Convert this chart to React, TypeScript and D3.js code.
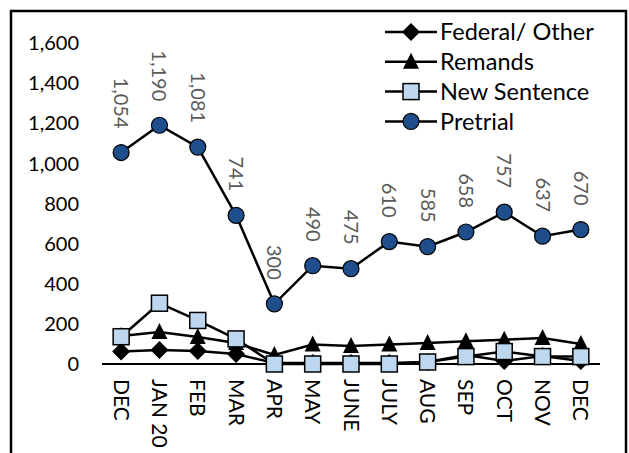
import React, { useEffect, useRef } from "react";
import * as d3 from "d3";

const months = ["DEC", "JAN 20", "FEB", "MAR", "APR", "MAY", "JUNE", "JULY", "AUG", "SEP", "OCT", "NOV", "DEC"];
const federal = [62, 70, 65, 50, 5, 5, 5, 5, 10, 45, 15, 40, 15];
const remands = [140, 160, 135, 105, 45, 97, 90, 97, 105, 113, 121, 130, 100];
const newSentence = [136, 303, 217, 125, 0, 0, 0, 0, 10, 37, 62, 37, 37];
const pretrial = [1054, 1190, 1081, 741, 300, 490, 475, 610, 585, 658, 757, 637, 670];
const yTicks = [0, 200, 400, 600, 800, 1000, 1200, 1400, 1600];

type Marker = "diamond" | "triangle" | "square" | "circle";

interface Series {
  name: string;
  values: number[];
  marker: Marker;
  fill: string;
}

// drawn bottom to top, same order as legend
const series: Series[] = [
  { name: "Federal/ Other", values: federal, marker: "diamond", fill: "#000000" },
  { name: "Remands", values: remands, marker: "triangle", fill: "#000000" },
  { name: "New Sentence", values: newSentence, marker: "square", fill: "#bdd7ee" },
  { name: "Pretrial", values: pretrial, marker: "circle", fill: "#1f4e8c" },
];

const width = 629;
const height = 453;
const font = "Lato, 'Open Sans', sans-serif";

const App: React.FC = () => {
  const ref = useRef<SVGSVGElement>(null);

  useEffect(() => {
    const svg = d3.select(ref.current);
    svg.selectAll("*").remove();

    const x = d3
      .scalePoint<number>()
      .domain(d3.range(months.length))
      .range([102, 600])
      .padding(0.5);
    const y = d3.scaleLinear().domain([0, 1600]).range([364, 43]);

    // outer frame
    svg
      .append("rect")
      .attr("x", 11)
      .attr("y", 11)
      .attr("width", 615)
      .attr("height", 470)
      .attr("fill", "white")
      .attr("stroke", "black")
      .attr("stroke-width", 2.5);

    const drawMarker = (
      g: d3.Selection<SVGGElement, unknown, null, undefined>,
      m: Marker,
      cx: number,
      cy: number,
      fill: string
    ) => {
      if (m === "circle") {
        g.append("circle").attr("cx", cx).attr("cy", cy).attr("r", 8)
          .attr("fill", fill).attr("stroke", "black").attr("stroke-width", 1.2);
      } else if (m === "square") {
        g.append("rect").attr("x", cx - 8).attr("y", cy - 8).attr("width", 16).attr("height", 16)
          .attr("fill", fill).attr("stroke", "black").attr("stroke-width", 1.5);
      } else if (m === "triangle") {
        g.append("path").attr("d", `M${cx},${cy - 9}L${cx + 8},${cy + 7}L${cx - 8},${cy + 7}Z`)
          .attr("fill", fill);
      } else {
        g.append("path").attr("d", `M${cx},${cy - 9}L${cx + 9},${cy}L${cx},${cy + 9}L${cx - 9},${cy}Z`)
          .attr("fill", fill);
      }
    };

    // y tick labels (no axis line)
    svg
      .append("g")
      .selectAll("text")
      .data(yTicks)
      .join("text")
      .attr("x", 79)
      .attr("y", (d) => y(d))
      .attr("dy", "0.36em")
      .attr("text-anchor", "end")
      .attr("font-family", font)
      .attr("font-size", 20)
      .attr("fill", "black")
      .text((d) => d3.format(",")(d));

    // category axis
    svg
      .append("line")
      .attr("x1", 102)
      .attr("x2", 600)
      .attr("y1", y(0))
      .attr("y2", y(0))
      .attr("stroke", "black")
      .attr("stroke-width", 2);

    svg
      .append("g")
      .selectAll("text")
      .data(months)
      .join("text")
      .attr("transform", (d, i) => `translate(${x(i)! - 7.5},379) rotate(90)`)
      .attr("text-anchor", "start")
      .attr("font-family", font)
      .attr("font-size", 21)
      .attr("fill", "black")
      .text((d) => d);

    const line = d3
      .line<number>()
      .x((d, i) => x(i)!)
      .y((d) => y(d));

    series.forEach((s) => {
      const g = svg.append("g");
      g.append("path")
        .datum(s.values)
        .attr("d", line)
        .attr("fill", "none")
        .attr("stroke", "black")
        .attr("stroke-width", 2.5);
      s.values.forEach((v, i) => drawMarker(g, s.marker, x(i)!, y(v), s.fill));
    });

    // data labels for pretrial
    svg
      .append("g")
      .selectAll("text")
      .data(pretrial)
      .join("text")
      .attr("transform", (d, i) => `translate(${x(i)! - 7},${y(d) - 24}) rotate(90)`)
      .attr("text-anchor", "end")
      .attr("font-family", font)
      .attr("font-size", 20)
      .attr("fill", "#595959")
      .text((d) => d3.format(",")(d));

    // legend
    const legend = svg.append("g");
    series.forEach((s, i) => {
      const ly = 32 + i * 29.8;
      legend.append("line").attr("x1", 385).attr("x2", 437).attr("y1", ly).attr("y2", ly)
        .attr("stroke", "black").attr("stroke-width", 2.5);
      drawMarker(legend, s.marker, 411, ly, s.fill);
      legend.append("text")
        .attr("x", 440)
        .attr("y", ly)
        .attr("dy", "0.36em")
        .attr("font-family", font)
        .attr("font-size", 23.5)
        .attr("fill", "black")
        .text(s.name);
    });
  }, []);

  return (
    <svg
      ref={ref}
      width={width}
      height={height}
      style={{ position: "absolute", left: 0, top: 0, display: "block", background: "white" }}
    />
  );
};

export default App;
